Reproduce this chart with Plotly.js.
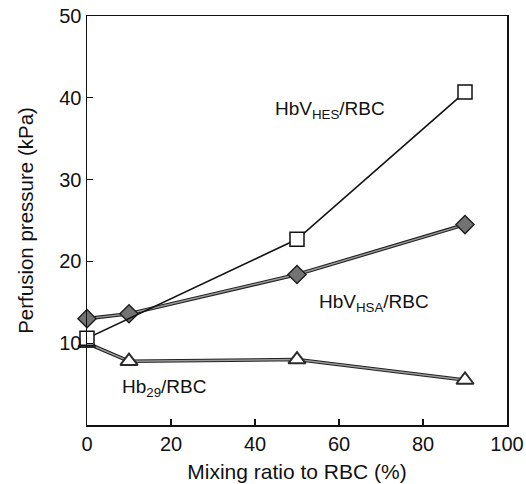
<!DOCTYPE html>
<html>
<head>
<meta charset="utf-8">
<script src="https://cdn.plot.ly/plotly-3.0.1.min.js"></script>
<style>
  html, body { margin: 0; padding: 0; background: #fff; }
  #chart { width: 526px; height: 484px; }
</style>
</head>
<body>
<div id="chart"></div>
<script>
// Perfusion pressure against mixing ratio with RBC
const hesRatio = [0, 50, 90];
const hesPressure = [10.6, 22.7, 40.7];

const hsaRatio = [0, 10, 50, 90];
const hsaPressure = [13.0, 13.6, 18.4, 24.5];

const hb29Ratio = [0, 10, 50, 90];
const hb29Pressure = [10.0, 7.8, 8.0, 5.5];

const xTicks = [0, 20, 40, 60, 80, 100];
const yTicks = [10, 20, 30, 40, 50];

const FONT = '"Liberation Sans", Arial, Helvetica, sans-serif';

// dark casing drawn under the grey lines gives them a double-edged look
function casing(x, y) {
  return {
    x: x, y: y, type: 'scatter', mode: 'lines',
    line: { color: '#222', width: 3.6 },
    hoverinfo: 'skip', showlegend: false, cliponaxis: false
  };
}

const traces = [
  casing(hsaRatio, hsaPressure),
  casing(hb29Ratio, hb29Pressure),
  {
    x: hsaRatio, y: hsaPressure, type: 'scatter', mode: 'lines+markers',
    name: 'HbV/HSA',
    line: { color: '#9a9a9a', width: 1.4 },
    marker: { symbol: 'diamond', size: 14, color: '#737373', line: { color: '#1e1e1e', width: 1.4 } },
    cliponaxis: false
  },
  {
    x: hb29Ratio, y: hb29Pressure, type: 'scatter', mode: 'lines+markers',
    name: 'Hb29',
    line: { color: '#9a9a9a', width: 1.4 },
    marker: { symbol: 'triangle-up', size: 15, color: '#ffffff', line: { color: '#2a2a2a', width: 2 } },
    cliponaxis: false
  },
  {
    x: hesRatio, y: hesPressure, type: 'scatter', mode: 'lines+markers',
    name: 'HbV/HES',
    line: { color: '#111', width: 1.6 },
    marker: { symbol: 'square', size: 14, color: '#ffffff', line: { color: '#111', width: 1.5 } },
    cliponaxis: false
  }
];

const annFont = { family: FONT, size: 19, color: '#111' };

const layout = {
  width: 526, height: 484,
  margin: { l: 87, r: 19, t: 16, b: 59 },
  paper_bgcolor: '#fff', plot_bgcolor: '#fff',
  showlegend: false,
  font: { family: FONT, color: '#111' },
  xaxis: {
    range: [0, 100],
    tickvals: xTicks, ticktext: xTicks.map(String),
    ticks: 'inside', ticklen: 6, tickwidth: 1.2, tickcolor: '#111',
    showline: true, linecolor: '#111', linewidth: 1.5, mirror: true,
    showgrid: false, zeroline: false,
    tickfont: { family: FONT, size: 20, color: '#111' },
    title: { text: 'Mixing ratio to RBC (%)', font: { family: FONT, size: 21, color: '#111' }, standoff: 11 }
  },
  yaxis: {
    range: [0, 50],
    tickvals: yTicks, ticktext: yTicks.map(String),
    ticks: 'inside', ticklen: 6, tickwidth: 1.2, tickcolor: '#111',
    showline: true, linecolor: '#111', linewidth: 1.5, mirror: true,
    showgrid: false, zeroline: false,
    tickfont: { family: FONT, size: 20, color: '#111' },
    title: { text: 'Perfusion pressure (kPa)', font: { family: FONT, size: 20.5, color: '#111' }, standoff: 20 }
  },
  annotations: [
    { x: 44.3, y: 38.5, xref: 'x', yref: 'y', xanchor: 'left', yanchor: 'middle',
      text: 'HbV<sub>HES</sub>/RBC', showarrow: false, font: annFont },
    { x: 54.8, y: 14.9, xref: 'x', yref: 'y', xanchor: 'left', yanchor: 'middle',
      text: 'HbV<sub>HSA</sub>/RBC', showarrow: false, font: annFont },
    { x: 7.9, y: 4.5, xref: 'x', yref: 'y', xanchor: 'left', yanchor: 'middle',
      text: 'Hb<sub>29</sub>/RBC', showarrow: false, font: annFont }
  ]
};

Plotly.newPlot('chart', traces, layout, { displayModeBar: false, staticPlot: true });
</script>
</body>
</html>
